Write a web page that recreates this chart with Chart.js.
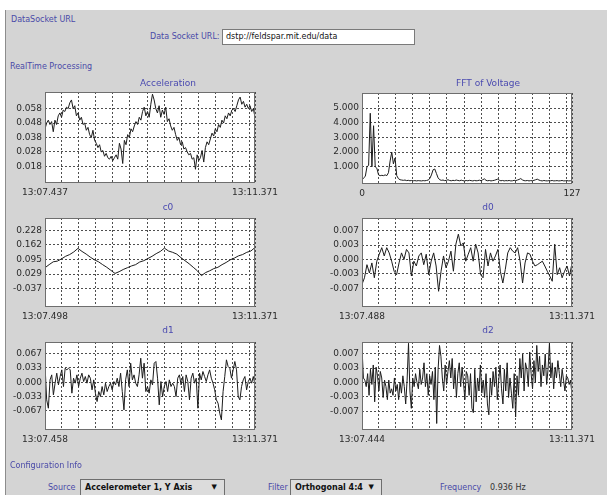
<!DOCTYPE html>
<html>
<head>
<meta charset="utf-8">
<script src="https://cdn.jsdelivr.net/npm/chart.js@4/dist/chart.umd.min.js"></script>
<style>
  html, body { margin:0; padding:0; }
  body { width:607px; height:495px; overflow:hidden; background:#ffffff; position:relative; font-family:"DejaVu Sans", sans-serif; }
  #panel { position:absolute; left:5px; top:10px; width:602px; height:485px; background:#d4d4d4; border-left:1px solid #8c8c8c; }
  .t { position:absolute; white-space:nowrap; line-height:1; }
  .sec { color:#4a4aa8; font-size:8px; }
  .lbl { color:#4a4aa8; font-size:8px; }
  .field { position:absolute; background:#fff; border:1px solid #7a7a7a; box-sizing:border-box; font-size:8px; color:#111; padding-left:3px; line-height:14px; }
  .combo { position:absolute; background:#dcdcdc; border:1px solid #6e6e6e; box-sizing:border-box; font-size:8px; font-weight:bold; color:#111; padding-left:4px; line-height:15px; }
  .combo span { position:absolute; right:7px; top:0; font-size:7px; font-weight:normal; }
  canvas { position:absolute; }
</style>
</head>
<body>
<div id="panel"></div>
<div class="t sec" style="left:11px; top:16px;">DataSocket URL</div>
<div class="t lbl" style="left:150px; top:33px;">Data Socket URL:</div>
<div class="field" style="left:222px; top:29px; width:193px; height:16px;">dstp://feldspar.mit.edu/data</div>
<div class="t sec" style="left:10px; top:63px;">RealTime Processing</div>

<canvas id="cAccel" width="326" height="127" style="left:5px; top:74px;"></canvas>
<canvas id="cFFT" width="332" height="127" style="left:322px; top:75px;"></canvas>
<canvas id="cC0" width="326" height="125" style="left:5px; top:200px;"></canvas>
<canvas id="cD0" width="332" height="125" style="left:322px; top:200px;"></canvas>
<canvas id="cD1" width="326" height="124" style="left:5px; top:324px;"></canvas>
<canvas id="cD2" width="332" height="124" style="left:322px; top:324px;"></canvas>

<div class="t sec" style="left:10px; top:462px;">Configuration Info</div>
<div class="t lbl" style="left:48px; top:484px;">Source</div>
<div class="combo" style="left:80px; top:479px; width:145px; height:17px;">Accelerometer 1, Y Axis<span>&#9660;</span></div>
<div class="t lbl" style="left:268px; top:484px;">Filter</div>
<div class="combo" style="left:290px; top:479px; width:92px; height:17px;">Orthogonal 4:4<span>&#9660;</span></div>
<div class="t lbl" style="left:440px; top:484px;">Frequency</div>
<div class="t" style="left:490px; top:484px; font-size:8px; color:#333;">0.936 Hz</div>

<script>
// ---------- DATA ----------
const accelTitle = 'Acceleration';
const accelXLabels = ['13:07.437', '13:11.371'];
const accelYTicks = [0.018, 0.028, 0.038, 0.048, 0.058];
const accelYLabels = ['0.018', '0.028', '0.038', '0.048', '0.058'];
const accelValues = [
  0.044,0.048,0.050,0.047,0.049,0.042,0.050,0.047,0.053,0.055,0.052,0.057,0.056,0.059,0.058,0.062,
  0.064,0.058,0.060,0.053,0.055,0.050,0.052,0.047,0.048,0.043,0.045,0.040,0.038,0.043,0.036,0.034,
  0.031,0.033,0.028,0.029,0.025,0.027,0.024,0.023,0.025,0.022,0.024,0.026,0.023,0.034,0.030,0.020,
  0.036,0.033,0.040,0.038,0.044,0.042,0.046,0.049,0.047,0.052,0.050,0.056,0.059,0.053,0.056,0.052,
  0.061,0.068,0.064,0.058,0.055,0.060,0.052,0.057,0.054,0.059,0.049,0.051,0.046,0.043,0.045,0.040,
  0.036,0.038,0.033,0.035,0.030,0.031,0.028,0.026,0.027,0.023,0.024,0.016,0.026,0.022,0.024,0.029,
  0.021,0.031,0.035,0.033,0.037,0.041,0.039,0.044,0.042,0.047,0.045,0.050,0.048,0.053,0.051,0.055,
  0.053,0.057,0.058,0.056,0.060,0.064,0.066,0.061,0.063,0.059,0.061,0.058,0.060,0.056,0.058,0.052
];

const fftTitle = 'FFT of Voltage';
const fftXLabels = ['0', '127'];
const fftYTicks = [1, 2, 3, 4, 5];
const fftYLabels = ['1.000', '2.000', '3.000', '4.000', '5.000'];
const fftValues = [
  0.10,0.25,0.35,1.00,1.10,4.65,1.00,3.80,1.00,0.90,0.45,0.40,0.42,0.40,0.45,0.40,
  0.60,1.40,2.00,1.20,1.60,0.40,0.20,0.12,0.10,0.08,0.10,0.06,0.08,0.05,0.07,0.05,
  0.06,0.04,0.06,0.05,0.04,0.06,0.05,0.07,0.10,0.20,0.45,0.80,0.85,0.55,0.25,0.12,
  0.08,0.10,0.06,0.08,0.12,0.07,0.05,0.08,0.06,0.10,0.07,0.05,0.09,0.06,0.04,0.07,
  0.05,0.08,0.06,0.04,0.07,0.05,0.06,0.09,0.05,0.12,0.18,0.08,0.05,0.07,0.04,0.06,
  0.08,0.12,0.16,0.09,0.05,0.07,0.04,0.06,0.05,0.07,0.04,0.05,0.08,0.06,0.10,0.14,
  0.20,0.11,0.06,0.05,0.07,0.04,0.06,0.05,0.08,0.12,0.16,0.10,0.06,0.04,0.07,0.05,
  0.04,0.06,0.05,0.07,0.04,0.05,0.06,0.04,0.05,0.07,0.04,0.05,0.06,0.04,0.05,0.08
];

const c0Title = 'c0';
const c0XLabels = ['13:07.498', '13:11.371'];
const c0YTicks = [-0.037, 0.029, 0.095, 0.162, 0.228];
const c0YLabels = ['-0.037', '0.029', '0.095', '0.162', '0.228'];
const c0Values = [
  0.058,0.072,0.085,0.088,0.098,0.110,0.118,0.130,0.146,0.132,0.120,0.106,0.094,
  0.085,0.072,0.060,0.046,0.032,0.040,0.050,0.058,0.066,0.072,0.084,0.090,0.100,
  0.110,0.122,0.132,0.147,0.134,0.128,0.120,0.104,0.090,0.076,0.060,0.044,0.022,
  0.036,0.044,0.054,0.060,0.072,0.082,0.094,0.102,0.112,0.118,0.128,0.134,0.150
];

const d0Title = 'd0';
const d0XLabels = ['13:07.488', '13:11.371'];
const d0YTicks = [-0.0067, -0.0033, 0, 0.0033, 0.0067];
const d0YLabels = ['-0.007', '-0.003', '0.000', '0.003', '0.007'];
const d0Values = [
  -0.0057,-0.0042,-0.0012,-0.0031,-0.0008,-0.0042,-0.0004,0.0012,0.0027,0.0008,0.0027,0.0015,
  -0.0004,-0.0027,-0.0035,-0.0008,0.0015,0.0000,0.0023,0.0015,-0.0038,-0.0004,-0.0015,0.0008,
  0.0015,-0.0012,0.0012,-0.0035,-0.0004,0.0015,-0.0015,-0.0073,-0.0027,0.0008,-0.0019,-0.0004,
  0.0019,-0.0027,0.0035,0.0058,0.0031,0.0038,-0.0004,0.0012,0.0027,-0.0004,0.0035,0.0015,
  -0.0035,-0.0042,0.0023,-0.0015,0.0015,-0.0004,0.0008,0.0023,-0.0027,-0.0054,-0.0023,0.0015,
  0.0027,0.0019,0.0015,0.0027,-0.0004,-0.0054,-0.0008,0.0015,0.0012,-0.0004,-0.0015,-0.0012,
  -0.0008,-0.0004,-0.0015,-0.0027,-0.0038,-0.0050,0.0035,-0.0035,-0.0019,-0.0042,-0.0027,-0.0015,
  -0.0038,-0.0008
];

const d1Title = 'd1';
const d1XLabels = ['13:07.458', '13:11.371'];
const d1YTicks = [-0.0667, -0.0333, 0, 0.0333, 0.0667];
const d1YLabels = ['-0.067', '-0.033', '0.000', '0.033', '0.067'];
const d1Values = [
  0.0402,-0.0410,-0.0604,0.0054,0.0170,-0.0294,-0.0023,0.0209,-0.0062,0.0132,0.0286,-0.0101,
  0.0325,0.0286,0.0325,0.0286,-0.0255,0.0093,-0.0023,0.0170,-0.0101,0.0093,0.0209,0.0015,
  0.0132,-0.0023,0.0170,0.0093,-0.0178,0.0054,-0.0255,-0.0449,-0.0217,-0.0333,-0.0101,-0.0294,
  -0.0023,-0.0217,-0.0101,-0.0023,-0.0178,0.0015,-0.0062,0.0093,-0.0101,0.0209,-0.0217,-0.0642,
  0.0054,0.0286,-0.0101,0.0441,0.0054,0.0170,-0.0023,-0.0101,0.0170,0.0557,0.0093,0.0441,
  -0.0217,-0.0101,-0.0255,0.0054,-0.0062,0.0441,0.0480,0.0093,-0.0526,0.0015,-0.0333,-0.0101,
  0.0015,-0.0217,0.0054,-0.0101,-0.0023,-0.0101,-0.0333,0.0093,0.0170,-0.0062,0.0132,-0.0217,
  0.0170,0.0015,-0.0410,0.0093,0.0209,-0.0023,0.0093,-0.0604,0.0209,0.0054,0.0248,0.0132,
  0.0015,0.0170,0.0286,0.0093,-0.0023,-0.0178,-0.0410,-0.0488,-0.0720,-0.0875,-0.0217,0.0132,
  0.0519,0.0364,0.0325,0.0093,0.0286,0.0480,0.0286,-0.0333,-0.0410,-0.0101,0.0054,0.0132,
  -0.0178,0.0015,0.0093,-0.0023,0.0132,-0.0062
];

const d2Title = 'd2';
const d2XLabels = ['13:07.444', '13:11.371'];
const d2YTicks = [-0.0067, -0.0033, 0, 0.0033, 0.0067];
const d2YLabels = ['-0.007', '-0.003', '0.000', '0.003', '0.007'];
const d2Values = [
  0.0080,0.0010,0.0005,-0.0010,0.0020,-0.0030,0.0030,-0.0005,0.0040,-0.0045,
  0.0035,0.0015,-0.0020,0.0025,0.0010,-0.0035,0.0005,-0.0010,-0.0040,0.0005,-0.0025,-0.0015,
  -0.0030,0.0010,-0.0020,-0.0005,-0.0040,0.0000,-0.0025,0.0015,-0.0010,-0.0050,0.0005,0.0090,-0.0020,-0.0060,
  0.0010,-0.0010,0.0020,0.0000,-0.0015,0.0030,-0.0005,0.0010,0.0045,-0.0010,0.0020,-0.0030,0.0015,-0.0005,
  0.0025,-0.0040,0.0035,-0.0095,0.0030,0.0085,0.0060,0.0010,-0.0020,0.0040,-0.0005,0.0025,
  0.0050,0.0010,0.0055,-0.0015,0.0030,-0.0035,0.0020,0.0045,-0.0010,0.0035,0.0000,-0.0040,0.0025,0.0015,
  -0.0030,0.0020,-0.0060,-0.0070,0.0030,-0.0045,0.0010,-0.0020,0.0040,-0.0025,0.0005,-0.0035,
  0.0020,-0.0050,-0.0075,0.0010,-0.0030,0.0025,-0.0010,0.0035,-0.0040,0.0005,0.0040,-0.0015,
  -0.0050,0.0030,-0.0020,0.0045,-0.0035,0.0010,-0.0025,-0.0060,0.0020,-0.0080,0.0015,-0.0030,
  0.0055,0.0010,0.0065,-0.0020,0.0045,0.0030,-0.0010,0.0070,0.0020,-0.0015,0.0050,0.0000,0.0085,0.0025,
  0.0060,-0.0010,0.0040,0.0015,0.0065,-0.0005,0.0030,0.0090,0.0010,0.0045,-0.0015,0.0035,0.0010,0.0050,
  0.0020,-0.0010,0.0030,0.0005,-0.0020,0.0015,0.0010,-0.0005,0.0005,-0.0030
];

// ---------- STYLE / LAYOUT ----------
const FONT = { family: 'DejaVu Sans', size: 9 };
const GRID_COLOR = '#4e4e4e';
const X_GRID_START = 0.0795, X_GRID_STEP = 0.0813, X_GRID_COUNT = 12;

const framePlugin = {
  id: 'frame',
  beforeDraw(chart) {
    const { ctx, chartArea: a } = chart;
    ctx.save();
    ctx.fillStyle = '#ffffff';
    ctx.fillRect(a.left, a.top, a.right - a.left, a.bottom - a.top);
    ctx.restore();
  },
  afterDraw(chart) {
    const { ctx, chartArea: a } = chart;
    ctx.save();
    ctx.strokeStyle = '#6e6e6e';
    ctx.lineWidth = 1;
    ctx.strokeRect(Math.round(a.left) + 0.5, Math.round(a.top) + 0.5,
                   Math.round(a.right - a.left) - 1, Math.round(a.bottom - a.top) - 1);
    ctx.restore();
  }
};

function makeChart(id, s) {
  const n = s.values.length;
  const xMax = n - 1;
  return new Chart(document.getElementById(id), {
    type: 'line',
    data: {
      datasets: [{
        data: s.values.map((v, i) => ({ x: i, y: v })),
        borderColor: '#1c1c1c', borderWidth: 1, pointRadius: 0, tension: 0, fill: false
      }]
    },
    options: {
      responsive: false, animation: false, events: [],
      layout: { padding: 0 },
      plugins: {
        legend: { display: false },
        tooltip: { enabled: false },
        title: {
          display: true, text: s.title, color: '#4a4ab0',
          font: { family: 'DejaVu Sans', size: 9, weight: 'normal', lineHeight: 1.2 },
          padding: { top: s.tTop, bottom: s.tBottom }
        }
      },
      scales: {
        x: {
          type: 'linear', min: 0, max: xMax,
          afterBuildTicks: sc => {
            const t = [{ value: 0 }];
            for (let k = 0; k < X_GRID_COUNT; k++) t.push({ value: (X_GRID_START + k * X_GRID_STEP) * xMax });
            t.push({ value: xMax });
            sc.ticks = t;
          },
          afterFit: sc => { sc.height = 18; },
          ticks: {
            autoSkip: false, maxRotation: 0, minRotation: 0, padding: 4, color: '#2a2a2a', font: FONT,
            callback: (v, i, t) => i === 0 ? s.xLabels[0] : (i === t.length - 1 ? s.xLabels[1] : '')
          },
          grid: { color: GRID_COLOR, drawTicks: false, lineWidth: 1 },
          border: { display: false, dash: [2, 2] }
        },
        y: {
          min: s.yMin, max: s.yMax,
          afterBuildTicks: sc => { sc.ticks = s.yTicks.map(v => ({ value: v })); },
          afterFit: sc => { sc.width = 40; },
          ticks: {
            autoSkip: false, padding: 3, color: '#2a2a2a', font: FONT,
            callback: (v, i) => s.yLabels[i]
          },
          grid: { color: GRID_COLOR, drawTicks: false, lineWidth: 1 },
          border: { display: false, dash: [2, 2] }
        },
        spacer: {
          position: 'right', min: 0, max: 1,
          afterFit: sc => { sc.width = s.padRight; },
          ticks: { display: false },
          grid: { display: false, drawTicks: false },
          border: { display: false }
        }
      }
    },
    plugins: [framePlugin]
  });
}

makeChart('cAccel', { title: accelTitle, values: accelValues, xLabels: accelXLabels,
  yTicks: accelYTicks, yLabels: accelYLabels, yMin: 0.0065, yMax: 0.0695, padRight: 76, tTop: 4.6, tBottom: 2.6 });
makeChart('cFFT', { title: fftTitle, values: fftValues, xLabels: fftXLabels,
  yTicks: fftYTicks, yLabels: fftYLabels, yMin: -0.17, yMax: 6.03, padRight: 82, tTop: 3.6, tBottom: 3.6 });
makeChart('cC0', { title: c0Title, values: c0Values, xLabels: c0XLabels,
  yTicks: c0YTicks, yLabels: c0YLabels, yMin: -0.1207, yMax: 0.2842, padRight: 76, tTop: 2.6, tBottom: 4.6 });
makeChart('cD0', { title: d0Title, values: d0Values, xLabels: d0XLabels,
  yTicks: d0YTicks, yLabels: d0YLabels, yMin: -0.0109, yMax: 0.0095, padRight: 82, tTop: 2.6, tBottom: 4.6 });
makeChart('cD1', { title: d1Title, values: d1Values, xLabels: d1XLabels,
  yTicks: d1YTicks, yLabels: d1YLabels, yMin: -0.111, yMax: 0.0933, padRight: 76, tTop: 1.6, tBottom: 5.6 });
makeChart('cD2', { title: d2Title, values: d2Values, xLabels: d2XLabels,
  yTicks: d2YTicks, yLabels: d2YLabels, yMin: -0.0110, yMax: 0.0093, padRight: 82, tTop: 1.6, tBottom: 5.6 });
</script>
</body>
</html>
